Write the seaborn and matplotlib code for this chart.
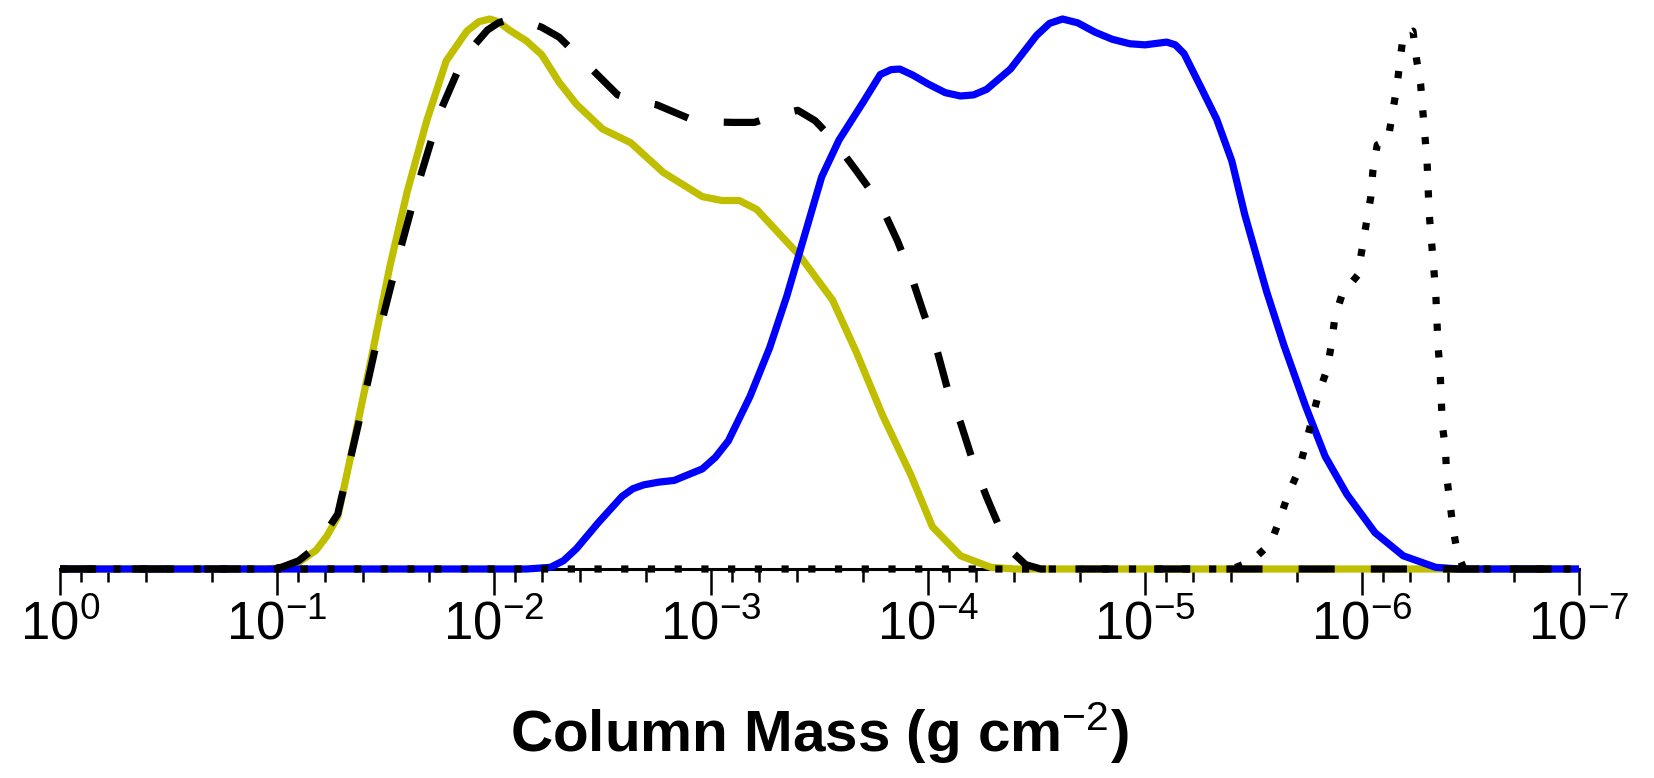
import numpy as np
import pandas as pd
import matplotlib
matplotlib.use("Agg")
import matplotlib.pyplot as plt
import matplotlib.ticker as mticker
import seaborn as sns

# ---- data: log10(column mass) and normalised distribution ----
yellow_logm = [0.0, -0.95, -1.01, -1.10, -1.18, -1.23, -1.28, -1.35, -1.43, -1.52, -1.60, -1.69,
               -1.78, -1.875, -1.93, -1.98, -2.02, -2.07, -2.15, -2.22, -2.30, -2.38, -2.50, -2.63,
               -2.78, -2.96, -3.05, -3.13, -3.21, -3.41, -3.56, -3.67, -3.79, -3.92, -4.02, -4.15,
               -4.29, -4.40, -7.0]
yellow_val = [0.0, 0.0, 0.002, 0.012, 0.034, 0.06, 0.095, 0.224, 0.374, 0.55, 0.686, 0.815,
              0.924, 0.978, 0.995, 1.0, 0.995, 0.98, 0.96, 0.935, 0.885, 0.845, 0.80, 0.775,
              0.721, 0.677, 0.67, 0.67, 0.654, 0.569, 0.489, 0.394, 0.28, 0.172, 0.077, 0.024,
              0.003, 0.0, 0.0]

dashed_logm = [0.0, -0.95, -1.02, -1.10, -1.18, -1.28, -1.38, -1.46, -1.55, -1.645, -1.75, -1.86,
               -1.97, -2.02, -2.06, -2.10, -2.15, -2.22, -2.30, -2.44, -2.57, -2.66, -2.75, -2.90,
               -3.00, -3.10, -3.20, -3.30, -3.40, -3.48, -3.56, -3.67, -3.78, -3.86, -3.92, -3.98,
               -4.04, -4.09, -4.15, -4.21, -4.27, -4.33, -4.39, -4.45, -4.52, -7.0]
dashed_val = [0.0, 0.0, 0.003, 0.015, 0.04, 0.10, 0.272, 0.414, 0.554, 0.693, 0.83, 0.93,
              0.98, 0.993, 0.998, 1.0, 0.995, 0.985, 0.967, 0.913, 0.862, 0.85, 0.844, 0.819,
              0.813, 0.812, 0.812, 0.825, 0.834, 0.815, 0.782, 0.724, 0.664, 0.596, 0.536, 0.465,
              0.40, 0.327, 0.266, 0.192, 0.131, 0.075, 0.03, 0.008, 0.0, 0.0]

blue_logm = [0.0, -2.15, -2.26, -2.32, -2.38, -2.48, -2.59, -2.64, -2.69, -2.76, -2.83, -2.96,
             -3.02, -3.08, -3.18, -3.27, -3.35, -3.43, -3.51, -3.59, -3.70, -3.78, -3.83, -3.87,
             -3.93, -4.00, -4.08, -4.15, -4.21, -4.27, -4.38, -4.50, -4.56, -4.62, -4.69, -4.77,
             -4.85, -4.93, -5.00, -5.06, -5.10, -5.14, -5.18, -5.26, -5.33, -5.40, -5.46, -5.56,
             -5.64, -5.74, -5.83, -5.93, -6.06, -6.19, -6.34, -6.45, -7.0]
blue_val = [0.0, 0.0, 0.003, 0.015, 0.037, 0.084, 0.132, 0.146, 0.153, 0.158, 0.161, 0.182,
            0.203, 0.233, 0.314, 0.402, 0.497, 0.605, 0.713, 0.78, 0.848, 0.899, 0.908, 0.909,
            0.898, 0.882, 0.866, 0.86, 0.862, 0.872, 0.909, 0.97, 0.992, 1.0, 0.993, 0.976,
            0.963, 0.955, 0.953, 0.956, 0.958, 0.953, 0.937, 0.874, 0.818, 0.742, 0.644, 0.505,
            0.407, 0.296, 0.205, 0.136, 0.066, 0.024, 0.003, 0.0, 0.0]

dotted_logm = [0.0, -5.40, -5.49, -5.58, -5.62, -5.66, -5.71, -5.74, -5.77, -5.80, -5.84, -5.86,
               -5.875, -5.91, -5.98, -6.00, -6.02, -6.04, -6.05, -6.07, -6.12, -6.14, -6.16, -6.175,
               -6.19, -6.235, -6.25, -6.27, -6.28, -6.29, -6.30, -6.305, -6.31, -6.32, -6.33, -6.34,
               -6.345, -6.35, -6.36, -6.365, -6.37, -6.385, -6.39, -6.405, -6.42, -6.44, -6.47, -7.0]
dotted_val = [0.0, 0.0, 0.014, 0.047, 0.09, 0.136, 0.181, 0.226, 0.273, 0.319, 0.364, 0.411,
              0.458, 0.501, 0.534, 0.581, 0.629, 0.675, 0.723, 0.771, 0.78, 0.828, 0.875, 0.923,
              0.97, 0.978, 0.93, 0.882, 0.834, 0.787, 0.74, 0.69, 0.644, 0.597, 0.55, 0.50,
              0.455, 0.407, 0.359, 0.311, 0.263, 0.216, 0.169, 0.122, 0.073, 0.028, 0.0, 0.0]

xlabel_text = r"Column Mass (g cm$^{\mathrm{-2}}$)"

# ---- style ----
sns.set_style("white")
plt.rcParams["font.family"] = ["Liberation Sans", "DejaVu Sans"]
plt.rcParams["mathtext.fontset"] = "custom"
plt.rcParams["mathtext.rm"] = "Liberation Sans"
plt.rcParams["mathtext.it"] = "Liberation Sans:italic"
plt.rcParams["mathtext.bf"] = "Liberation Sans:bold"
plt.rcParams["mathtext.default"] = "regular"
plt.rcParams["text.color"] = "black"
plt.rcParams["axes.labelcolor"] = "black"
plt.rcParams["xtick.color"] = "black"

W, H = 1654, 778
fig = plt.figure(figsize=(W / 100, H / 100), dpi=100)
ax = fig.add_axes([60 / W, 209 / H, 1519 / W, 550 / H])
ax.set_xscale("log")

lw = 5.2
series = [
    (yellow_logm, yellow_val, (0.75, 0.75, 0.0), "-"),
    (blue_logm, blue_val, (0.0, 0.0, 1.0), "-"),
    (dashed_logm, dashed_val, "black", (0, (5.0, 5.0))),
    (dotted_logm, dotted_val, "black", (0, (1.0, 2.7))),
]
for i, (lm, val, col, ls) in enumerate(series):
    df = pd.DataFrame({"mass": 10.0 ** np.asarray(lm), "val": val})
    sns.lineplot(data=df, x="mass", y="val", ax=ax, color=col, linestyle=ls,
                 linewidth=lw, estimator=None, sort=False, clip_on=False,
                 zorder=3 + i, solid_capstyle="butt", dash_capstyle="butt",
                 solid_joinstyle="round", dash_joinstyle="round")

ax.set_xlim(1.0, 1e-7)
ax.set_ylim(0, 1.0)
for s in ["left", "right", "top"]:
    ax.spines[s].set_visible(False)
ax.spines["bottom"].set_linewidth(2.2)
ax.spines["bottom"].set_color("black")
ax.set_yticks([])
ax.set_ylabel("")


def decade_label(x, pos):
    n = int(round(np.log10(x)))
    return r"$10^{%d}$" % n


ax.xaxis.set_major_locator(mticker.LogLocator(base=10, numticks=20))
ax.xaxis.set_major_formatter(mticker.FuncFormatter(decade_label))
ax.xaxis.set_minor_locator(mticker.LogLocator(base=10, subs=(2, 4, 6, 8), numticks=20))
ax.xaxis.set_minor_formatter(mticker.NullFormatter())
ax.tick_params(axis="x", which="major", direction="out", length=18.7, width=1.8,
               labelsize=38, pad=4, color="black", bottom=True)
ax.tick_params(axis="x", which="minor", direction="out", length=9.4, width=1.8,
               color="black", bottom=True)
ax.set_xlabel(xlabel_text, fontsize=42, fontweight="bold", labelpad=36)

fig.savefig("out.png", dpi=100)
